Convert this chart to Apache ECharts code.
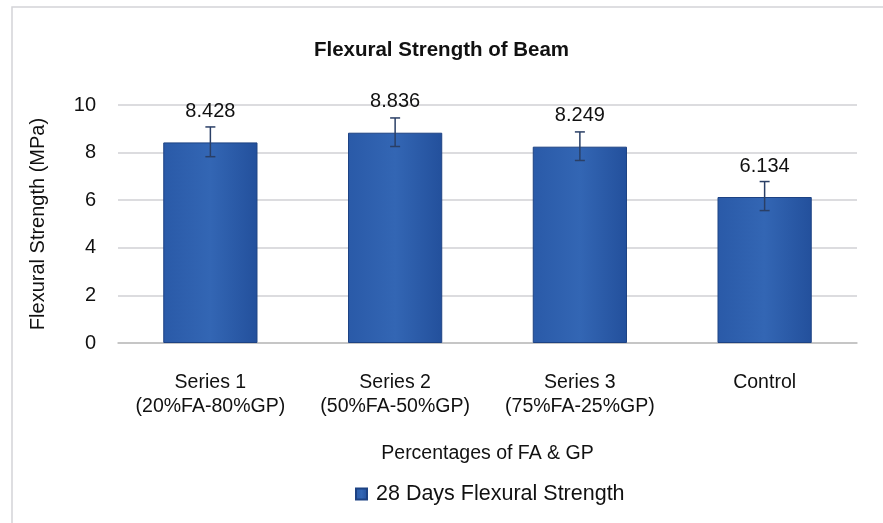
<!DOCTYPE html>
<html><head><meta charset="utf-8">
<script src="https://cdn.jsdelivr.net/npm/echarts@6/dist/echarts.min.js"></script>
<style>html,body{margin:0;padding:0;background:#fff}#c{width:883px;height:523px}</style>
</head><body><div id="c"></div>
<script>
const categories = ['Series 1\n(20%FA-80%GP)', 'Series 2\n(50%FA-50%GP)', 'Series 3\n(75%FA-25%GP)', 'Control'];
const values = [8.428, 8.836, 8.249, 6.134];
const errPlus = [0.65, 0.62, 0.62, 0.65];
const errMinus = [0.6, 0.58, 0.58, 0.57];
const yTicks = [0, 2, 4, 6, 8, 10];

const chart = echarts.init(document.getElementById('c'));
const font = 'Liberation Sans, Arial, sans-serif';
chart.setOption({
  backgroundColor: '#fff',
  animation: false,
  graphic: [{ type: 'rect', shape: { x: 12, y: 7, width: 900, height: 600 }, style: { fill: 'none', stroke: '#d4d4d8', lineWidth: 1.5 } }],
  title: { text: 'Flexural Strength of Beam', left: 'center', top: 35, textStyle: { fontFamily: font, fontSize: 20.5, fontWeight: 'bold', color: '#111' } },
  legend: { bottom: 13, left: 350, icon: 'rect', itemWidth: 11, itemHeight: 11, itemGap: 10, textStyle: { fontFamily: font, fontSize: 21.5, color: '#111', padding: [0, 0, 0, 4] }, data: ['28 Days Flexural Strength'] },
  grid: { left: 118, right: 26, top: 105, bottom: 180 },
  xAxis: {
    type: 'category', data: categories,
    name: 'Percentages of FA & GP', nameLocation: 'middle', nameGap: 101,
    nameTextStyle: { fontFamily: font, fontSize: 19.5, color: '#111' },
    axisLine: { lineStyle: { color: '#bfbfbf', width: 1.5 } }, axisTick: { show: false },
    axisLabel: { fontFamily: font, fontSize: 19.5, color: '#111', lineHeight: 24, margin: 28, interval: 0 }
  },
  yAxis: {
    type: 'value', min: yTicks[0], max: yTicks[yTicks.length - 1], interval: 2,
    name: 'Flexural Strength (MPa)', nameLocation: 'middle', nameGap: 70, nameRotate: 90,
    nameTextStyle: { fontFamily: font, fontSize: 20, color: '#111' },
    axisLine: { show: false }, axisTick: { show: false },
    axisLabel: { fontFamily: font, fontSize: 20, color: '#111', margin: 22 },
    splitLine: { lineStyle: { color: '#d0d0d4', width: 1.5 } }
  },
  series: [{
    name: '28 Days Flexural Strength', type: 'bar', data: values, barWidth: '51%',
    itemStyle: {
      color: new echarts.graphic.LinearGradient(0, 0, 1, 0, [
        { offset: 0, color: '#2a5aa8' }, { offset: 0.5, color: '#3366b4' }, { offset: 1, color: '#23509c' }
      ]),
      borderColor: '#1d4283', borderWidth: 1
    },
    label: { show: true, position: 'top', distance: 21, fontFamily: font, fontSize: 20, color: '#111', formatter: p => values[p.dataIndex].toFixed(3) }
  }, {
    type: 'custom', name: 'err', z: 5, silent: true,
    data: values.map((v, i) => [i, v - errMinus[i], v + errPlus[i]]),
    renderItem: function (params, api) {
      const lo = api.coord([api.value(0), api.value(1)]);
      const hi = api.coord([api.value(0), api.value(2)]);
      const w = 5;
      const st = { stroke: '#2a3f66', lineWidth: 1.5 };
      return { type: 'group', children: [
        { type: 'line', shape: { x1: hi[0], y1: hi[1], x2: lo[0], y2: lo[1] }, style: st },
        { type: 'line', shape: { x1: hi[0] - w, y1: hi[1], x2: hi[0] + w, y2: hi[1] }, style: st },
        { type: 'line', shape: { x1: lo[0] - w, y1: lo[1], x2: lo[0] + w, y2: lo[1] }, style: st }
      ]};
    }
  }]
});
</script></body></html>
